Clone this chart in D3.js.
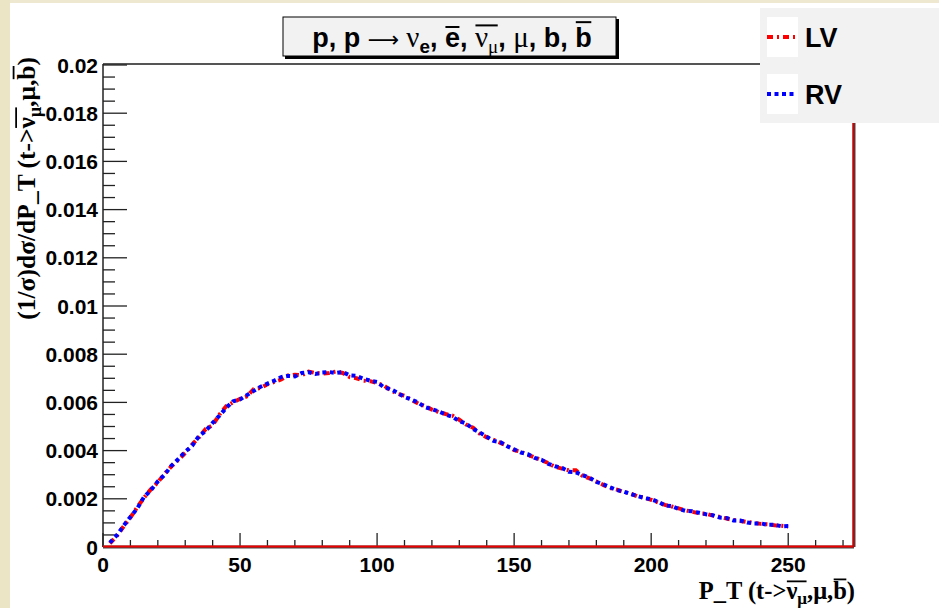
<!DOCTYPE html>
<html><head><meta charset="utf-8">
<script src="https://cdn.jsdelivr.net/npm/d3@7"></script>
<style>body{margin:0;background:#fff;overflow:hidden}</style>
</head><body>
<svg id="c" width="939" height="608"></svg>
<script>
// ---------- data ----------
const ptBins = [2.5,5,7.5,10,12.5,15,17.5,20,22.5,25,27.5,30,32.5,35,37.5,40,42.5,45,47.5,50,
 52.5,55,57.5,60,62.5,65,67.5,70,72.5,75,77.5,80,82.5,85,87.5,90,92.5,95,97.5,100,
 102.5,105,107.5,110,112.5,115,117.5,120,122.5,125,127.5,130,132.5,135,137.5,140,142.5,145,147.5,150,
 152.5,155,157.5,160,162.5,165,167.5,170,172.5,175,177.5,180,182.5,185,187.5,190,192.5,195,197.5,200,
 202.5,205,207.5,210,212.5,215,217.5,220,222.5,225,227.5,230,232.5,235,237.5,240,242.5,245,247.5,250];
const lvValues = [0.00015,0.00045,0.00085,0.00122,0.00165,0.00205,0.00240,0.00268,0.00305,0.00335,
 0.00362,0.00390,0.00425,0.00455,0.00490,0.00505,0.00550,0.00585,0.00600,0.00615,
 0.00625,0.00655,0.00660,0.00675,0.00685,0.00695,0.00712,0.00715,0.00712,0.00728,
 0.00722,0.00720,0.00722,0.00728,0.00722,0.00705,0.00700,0.00690,0.00688,0.00680,
 0.00670,0.00650,0.00635,0.00628,0.00610,0.00595,0.00585,0.00570,0.00560,0.00552,
 0.00545,0.00528,0.00508,0.00495,0.00470,0.00455,0.00445,0.00432,0.00420,0.00402,
 0.00395,0.00382,0.00372,0.00360,0.00348,0.00332,0.00325,0.00318,0.00318,0.00295,
 0.00285,0.00272,0.00258,0.00245,0.00238,0.00228,0.00222,0.00210,0.00205,0.00196,
 0.00185,0.00175,0.00168,0.00160,0.00152,0.00146,0.00140,0.00138,0.00130,0.00125,
 0.00118,0.00112,0.00108,0.00104,0.00100,0.00096,0.00094,0.00090,0.00088,0.00085];
const rvValues = [0.00018,0.00048,0.00088,0.00125,0.00160,0.00208,0.00236,0.00272,0.00300,0.00338,
 0.00365,0.00395,0.00420,0.00460,0.00482,0.00515,0.00545,0.00578,0.00605,0.00612,
 0.00630,0.00648,0.00665,0.00678,0.00690,0.00705,0.00710,0.00708,0.00722,0.00725,
 0.00718,0.00724,0.00726,0.00722,0.00726,0.00712,0.00710,0.00698,0.00690,0.00685,
 0.00662,0.00655,0.00640,0.00622,0.00612,0.00600,0.00580,0.00572,0.00562,0.00550,
 0.00540,0.00522,0.00512,0.00490,0.00475,0.00458,0.00440,0.00435,0.00418,0.00405,
 0.00392,0.00385,0.00370,0.00362,0.00345,0.00335,0.00328,0.00312,0.00310,0.00298,
 0.00288,0.00270,0.00260,0.00248,0.00236,0.00230,0.00220,0.00212,0.00203,0.00198,
 0.00188,0.00172,0.00170,0.00158,0.00150,0.00148,0.00142,0.00136,0.00132,0.00122,
 0.00120,0.00110,0.00110,0.00102,0.00098,0.00098,0.00092,0.00092,0.00086,0.00087];
const seriesNames = ["LV","RV"];
const seriesColors = ["#ff0000","#0000ff"];
const seriesDash = ["6,4,2,4","4,3.5"];
const xTicks = [0,50,100,150,200,250];
const xTickLabels = ["0","50","100","150","200","250"];
const xMinorTicks = [10,20,30,40,60,70,80,90,110,120,130,140,160,170,180,190,210,220,230,240,260,270];
const yTicks = [0,0.002,0.004,0.006,0.008,0.01,0.012,0.014,0.016,0.018,0.02];
const yTickLabels = ["0","0.002","0.004","0.006","0.008","0.01","0.012","0.014","0.016","0.018","0.02"];
const yMinorTicks = [0.0005,0.001,0.0015,0.0025,0.003,0.0035,0.0045,0.005,0.0055,0.0065,0.007,0.0075,
 0.0085,0.009,0.0095,0.0105,0.011,0.0115,0.0125,0.013,0.0135,0.0145,0.015,0.0155,0.0165,0.017,0.0175,0.0185,0.019,0.0195];

// ---------- layout ----------
const svg = d3.select("#c");
const L = 103, R = 854, T = 65, B = 547;
const x = d3.scaleLinear().domain([0, 274]).range([L, R]);
const y = d3.scaleLinear().domain([0, 0.02]).range([B, T]);
const sans = "'Liberation Sans', Arial, sans-serif";
const serif = "'Liberation Serif', 'Times New Roman', serif";

svg.append("rect").attr("x",0).attr("y",0).attr("width",939).attr("height",608).attr("fill","#fff");
svg.append("rect").attr("x",0).attr("y",0).attr("width",939).attr("height",3).attr("fill","#ede8cf");
svg.append("rect").attr("x",0).attr("y",0).attr("width",10).attr("height",608).attr("fill","#ebe5c6");

function rich(g, px, py, segs, base) {
  const t = g.append("text").attr("x", px).attr("y", py).style("white-space","pre")
    .attr("font-family", base.family).attr("font-weight", base.weight)
    .attr("font-size", base.size).attr("text-anchor", base.anchor || "start").attr("fill","#000");
  let off = 0, idx = 0; const marks = [];
  segs.forEach(s => {
    const ts = t.append("tspan").text(s.t);
    const target = s.sub ? base.subShift : 0;
    if (target !== off) { ts.attr("dy", target - off); off = target; }
    if (s.f) ts.attr("font-family", s.f);
    if (s.w) ts.attr("font-weight", s.w);
    if (s.sub) ts.attr("font-size", base.size * 0.7);
    else if (s.sz) ts.attr("font-size", s.sz);
    if (s.over) marks.push({start: idx, end: idx + s.t.length - 1, grp: s.over, k: s.k});
    idx += s.t.length;
  });
  const node = t.node();
  const groups = d3.group(marks, m => m.grp);
  groups.forEach(ms => {
    let x0 = Infinity, x1 = -Infinity, k = 0;
    ms.forEach(m => {
      for (let i = m.start; i <= m.end; i++) {
        const a = node.getStartPositionOfChar(i).x, b = node.getEndPositionOfChar(i).x;
        x0 = Math.min(x0, a, b); x1 = Math.max(x1, a, b);
      }
      if (m.k) k = m.k;
    });
    g.append("line").attr("x1", x0 + 0.5).attr("x2", x1 - 0.5)
      .attr("y1", py - k * base.size).attr("y2", py - k * base.size)
      .attr("stroke","#000").attr("stroke-width", base.barW || 1.6);
  });
  return t;
}

// ---------- frame & axes ----------
const fr = svg.append("g");
fr.append("line").attr("x1",L).attr("x2",R).attr("y1",T-1).attr("y2",T-1).attr("stroke","#555").attr("stroke-width",2);
fr.append("line").attr("x1",L).attr("x2",L).attr("y1",T-1).attr("y2",B).attr("stroke","#222").attr("stroke-width",1.5);

fr.selectAll(".ymaj").data(yTicks).join("line")
  .attr("x1",L).attr("x2",L+24).attr("y1",d=>y(d)).attr("y2",d=>y(d)).attr("stroke","#222").attr("stroke-width",1.3);
fr.selectAll(".ymin").data(yMinorTicks).join("line")
  .attr("x1",L).attr("x2",L+12).attr("y1",d=>y(d)).attr("y2",d=>y(d)).attr("stroke","#222").attr("stroke-width",1.3);
fr.selectAll(".xmaj").data(xTicks).join("line")
  .attr("x1",d=>x(d)).attr("x2",d=>x(d)).attr("y1",B).attr("y2",B-14).attr("stroke","#222").attr("stroke-width",1.3);
fr.selectAll(".xmin").data(xMinorTicks).join("line")
  .attr("x1",d=>x(d)).attr("x2",d=>x(d)).attr("y1",B).attr("y2",B-7).attr("stroke","#222").attr("stroke-width",1.3);

svg.selectAll(".ylab").data(yTicks).join("text")
  .attr("x", 98).attr("y", d => y(d) + 7.5).attr("text-anchor","end")
  .attr("font-family", sans).attr("font-weight","bold").attr("font-size",21)
  .text((d,i) => yTickLabels[i]);
svg.selectAll(".xlab").data(xTicks).join("text")
  .attr("x", d => x(d)).attr("y", 572).attr("text-anchor","middle")
  .attr("font-family", sans).attr("font-weight","bold").attr("font-size",21)
  .text((d,i) => xTickLabels[i]);

// ---------- curves ----------
svg.append("clipPath").attr("id","clip").append("rect").attr("x",L).attr("y",T).attr("width",R-L).attr("height",B-T);
const line = d3.line().x((d,i)=>x(ptBins[i])).y(d=>y(d));
[lvValues, rvValues].forEach((vals, si) => {
  svg.append("path").datum(vals).attr("d", line).attr("clip-path","url(#clip)")
    .attr("fill","none").attr("stroke", seriesColors[si]).attr("stroke-width", 4)
    .attr("stroke-dasharray", seriesDash[si]);
});

svg.append("line").attr("x1",L).attr("x2",R).attr("y1",B).attr("y2",B).attr("stroke","#444").attr("stroke-width",3);
svg.append("line").attr("x1",L).attr("x2",R).attr("y1",B-0.5).attr("y2",B-0.5).attr("stroke","#ee0000").attr("stroke-width",2);
svg.append("line").attr("x1",R).attr("x2",R).attr("y1",T-2).attr("y2",B).attr("stroke","#444").attr("stroke-width",3);
svg.append("line").attr("x1",R-0.5).attr("x2",R-0.5).attr("y1",T-2).attr("y2",B).attr("stroke","#cc0000").attr("stroke-width",2);

// ---------- axis titles ----------
rich(svg, 855, 599, [
  {t:"P_T (t->"},
  {t:"ν", over:1, k:0.72},
  {t:"μ", sub:true, over:1},
  {t:",μ,"},
  {t:"b", over:2, k:0.8},
  {t:")"}
], {family: serif, weight:"bold", size:24.5, anchor:"end", subShift:5, barW:1.8});

const yl = svg.append("g").attr("transform","translate(35,57) rotate(-90)");
rich(yl, 0, 0, [
  {t:"(1/σ)dσ/dP_T (t->"},
  {t:"ν", over:1, k:0.74},
  {t:"μ", sub:true, over:1},
  {t:",μ,"},
  {t:"b", over:2, k:0.84},
  {t:")"}
], {family: serif, weight:"bold", size:25.5, anchor:"end", subShift:6, barW:1.8});

// ---------- title box ----------
svg.append("rect").attr("x",285).attr("y",19).attr("width",334).attr("height",40).attr("fill","#000");
svg.append("rect").attr("x",283).attr("y",17).attr("width",333).attr("height",39).attr("fill","#f2f2f2").attr("stroke","#000").attr("stroke-width",1);
rich(svg, 452, 47, [
  {t:"p, p "},
  {t:"⟶ ", f:"'DejaVu Sans', sans-serif", w:"normal", sz:22},
  {t:"ν", f:serif, w:"normal", sz:29},
  {t:"e", sub:true},
  {t:", "},
  {t:"e", over:1, k:0.74},
  {t:", "},
  {t:"ν", f:serif, w:"normal", sz:29, over:2, k:0.8},
  {t:"μ", f:serif, w:"normal", sub:true, over:2},
  {t:", "},
  {t:"μ", f:serif, w:"normal", sz:29},
  {t:", b, "},
  {t:"b", over:3, k:0.92}
], {family: sans, weight:"bold", size:27, anchor:"middle", subShift:6, barW:2});

// ---------- legend ----------
const lg = svg.append("g");
lg.append("rect").attr("x",760).attr("y",8).attr("width",190).attr("height",115).attr("fill","#f2f2f2");
const legY = [37, 94];
seriesNames.forEach((nm, i) => {
  lg.append("rect").attr("x",767).attr("y",legY[i]-20).attr("width",31).attr("height",40).attr("fill","#fff");
  lg.append("line").attr("x1",767).attr("x2",797).attr("y1",legY[i]).attr("y2",legY[i])
    .attr("stroke",seriesColors[i]).attr("stroke-width",4).attr("stroke-dasharray",seriesDash[i]);
  lg.append("text").attr("x",805).attr("y",legY[i]+10).attr("font-family",sans).attr("font-weight","bold")
    .attr("font-size",27).attr("fill","#000").text(nm);
});
</script>
</body></html>
